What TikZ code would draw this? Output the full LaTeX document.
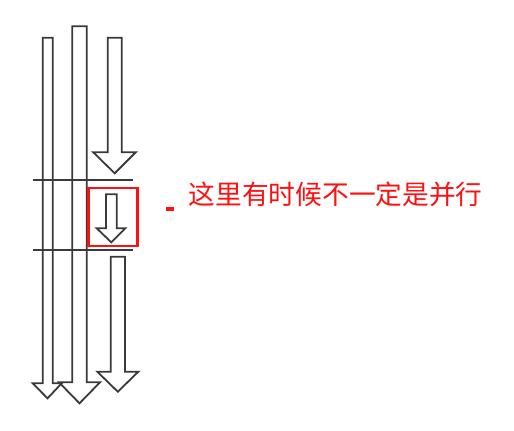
\documentclass[tikz,border=0pt]{standalone}
\usepackage{fontspec}
\newfontfamily\cjk{Noto Sans CJK SC}
\definecolor{arrowgray}{HTML}{3A3A3A}
\definecolor{noteRed}{HTML}{FF1010}
\newcommand\fatarrow[8]{%
  \draw[arrowline] (#1,#3) -- (#2,#3) -- (#2,#4) -- (#6,#4) -- (#7,#8) -- (#5,#4) -- (#1,#4) -- cycle;}
\tikzset{
  arrowline/.style={draw=arrowgray, line width=1.8bp, fill=white, line join=miter},
  sepline/.style={draw=arrowgray, line width=1.8bp},
  redbox/.style={draw=noteRed, line width=2.8bp},
}
\begin{document}
\begin{tikzpicture}[x=1bp,y=-1bp]
\useasboundingbox[fill=white] (0,0) rectangle (514,430);
% long arrows
\fatarrow{72.3}{86.7}{26.3}{382.3}{59}{100}{79.5}{403.3}
\fatarrow{42.7}{52.7}{37.7}{383.3}{32.7}{61.7}{47.5}{398.3}
% top right arrow
\fatarrow{107.7}{121.7}{37.7}{152.3}{93.3}{135.7}{114.7}{173.3}
% small arrow
\fatarrow{106}{116.7}{194.3}{228.3}{96.7}{125.3}{111.3}{242.3}
% bottom right arrow
\fatarrow{110.7}{125}{256.7}{371.7}{97.3}{138.3}{117.8}{391.7}
% separator lines
\coordinate (l1a) at (33.3,180);
\coordinate (l1b) at (133.3,180);
\coordinate (l2a) at (33.3,250);
\coordinate (l2b) at (133.3,250);
\draw[sepline] (l1a) -- (l1b);
\draw[sepline] (l2a) -- (l2b);
% red box
\node[redbox, minimum width=49.4bp, minimum height=58bp, inner sep=0pt] (box) at (113,217) {};
% red dash
\fill[noteRed] (166,207) rectangle (174,210.5);
% text
\node[text=noteRed, inner sep=0pt] (note) at (335.7,194.7) {\cjk\fontsize{26.7bp}{30bp}\selectfont 这里有时候不一定是并行};
\end{tikzpicture}
\end{document}
